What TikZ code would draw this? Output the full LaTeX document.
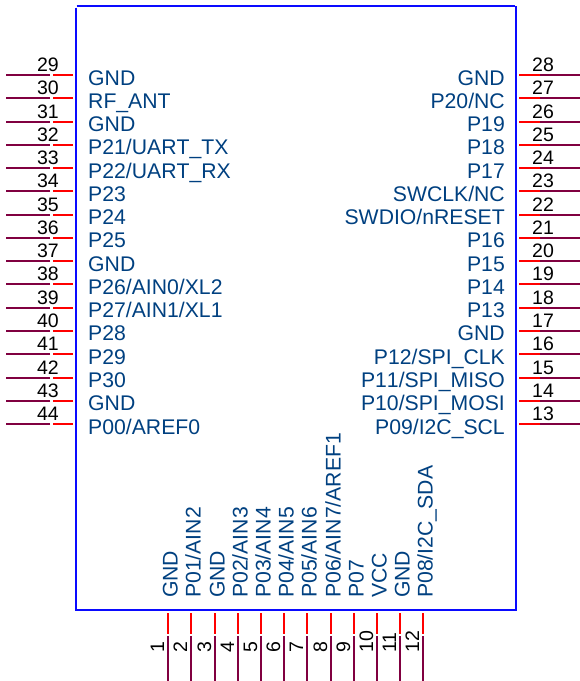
\documentclass[tikz,border=0pt]{standalone}
\usepackage{fontspec}
\setmainfont{Liberation Sans}
\newfontfamily\lblfont[Kerning=Off]{Liberation Sans}
\definecolor{wireblue}{RGB}{10,10,255}
\definecolor{pinred}{RGB}{255,0,0}
\definecolor{pindark}{RGB}{128,0,64}
\definecolor{lbl}{RGB}{0,64,128}
\tikzset{
  boxline/.style={draw=wireblue,line width=2pt},
  pinin/.style={draw=pinred,line width=2pt},
  pinout/.style={draw=pindark,line width=2pt},
  lblL/.style={text=lbl,inner sep=0pt,anchor=base west,font=\fontsize{21.2}{22}\lblfont},
  lblR/.style={text=lbl,inner sep=0pt,anchor=base east,font=\fontsize{21.2}{22}\lblfont},
  lblB/.style={text=lbl,inner sep=0pt,anchor=base west,rotate=90,font=\fontsize{21.2}{22}\lblfont},
  num/.style={text=black,inner sep=0pt,font=\fontsize{19.5}{20}\selectfont},
}
\begin{document}
\begin{tikzpicture}[x=1pt,y=-1pt]
\useasboundingbox (0,0) rectangle (580,681);
% box
\coordinate (tl1) at (76,7.5); \coordinate (bl) at (76,609.5);
\coordinate (br) at (516,609.5); \coordinate (tr1) at (516,5.5);
\coordinate (tl2) at (76.5,5.5); \coordinate (tr2) at (514.5,5.5);
\draw[boxline] (tl1) -- (bl) -- (br) -- (tr1);
\draw[boxline] (tl2) -- (tr2);
% left pins
\foreach \n/\t [count=\i from 0] in {29/GND,30/RF\_ANT,31/GND,32/{P21/UART\_TX},33/{P22/UART\_RX},34/P23,35/P24,36/P25,37/GND,38/{P26/AIN0/XL2},39/{P27/AIN1/XL1},40/P28,41/P29,42/P30,43/GND,44/{P00/AREF0}}{
  \pgfmathsetmacro{\yy}{round(75+23.27*\i)}
  \pgfmathsetmacro{\ty}{75+23.27*\i+10}
  \coordinate (La\n) at (73,\yy); \coordinate (Lb\n) at (52.5,\yy);
  \coordinate (Lc\n) at (50,\yy); \coordinate (Ld\n) at (6,\yy);
  \draw[pinin] (La\n) -- (Lb\n);
  \draw[pinout] (Lc\n) -- (Ld\n);
  \node[num,anchor=base east] (Ln\n) at (59,\yy-4) {\n};
  \node[lblL] (Lt\n) at (88,\ty) {\t};
}
% right pins
\foreach \n/\t [count=\i from 0] in {28/GND,27/{P20/NC},26/P19,25/P18,24/P17,23/{SWCLK/NC},22/{SWDIO/nRESET},21/P16,20/P15,19/P14,18/P13,17/GND,16/{P12/SPI\_CLK},15/{P11/SPI\_MISO},14/{P10/SPI\_MOSI},13/{P09/I2C\_SCL}}{
  \pgfmathsetmacro{\yy}{round(75+23.27*\i)}
  \pgfmathsetmacro{\ty}{75+23.27*\i+10}
  \coordinate (Ra\n) at (519,\yy); \coordinate (Rb\n) at (539.5,\yy);
  \coordinate (Rc\n) at (539.5,\yy); \coordinate (Rd\n) at (580,\yy);
  \draw[pinout] (Rc\n) -- (Rd\n);
  \draw[pinin] (Ra\n) -- (Rb\n);
  \node[num,anchor=base west] (Rn\n) at (532,\yy-4) {\n};
  \node[lblR] (Rt\n) at (505,\ty) {\t};
}
% bottom pins
\foreach \n/\t [count=\i from 0] in {1/GND,2/{P01/AIN2},3/GND,4/{P02/AIN3},5/{P03/AIN4},6/{P04/AIN5},7/{P05/AIN6},8/{P06/AIN7/AREF1},9/P07,10/VCC,11/GND,12/{P08/I2C\_SDA}}{
  \pgfmathsetmacro{\xx}{round(168.3+23.18*\i)}
  \coordinate (Ba\n) at (\xx,613); \coordinate (Bb\n) at (\xx,634);
  \coordinate (Bc\n) at (\xx,636); \coordinate (Bd\n) at (\xx,680.5);
  \draw[pinin] (Ba\n) -- (Bb\n);
  \draw[pinout] (Bc\n) -- (Bd\n);
  \node[num,anchor=base west,rotate=90] (Bn\n) at (\xx-4,653) {\n};
  \node[lblB] (Bt\n) at (\xx+9.5,598) {\t};
}
\end{tikzpicture}
\end{document}
